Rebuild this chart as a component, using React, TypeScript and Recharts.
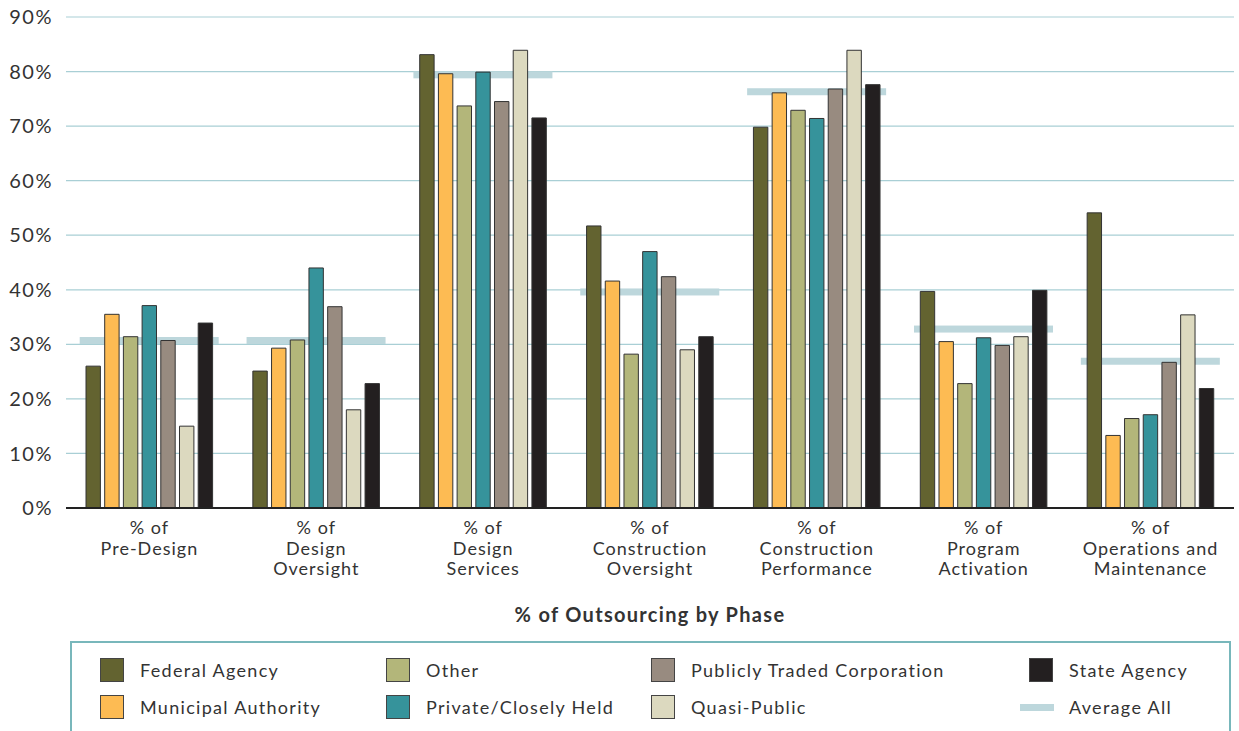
import { BarChart, Bar, XAxis, YAxis, CartesianGrid } from "recharts";

const phases = [
  "% of\nPre-Design",
  "% of\nDesign\nOversight",
  "% of\nDesign\nServices",
  "% of\nConstruction\nOversight",
  "% of\nConstruction\nPerformance",
  "% of\nProgram\nActivation",
  "% of\nOperations and\nMaintenance",
];

const federalAgency = [26, 25.1, 83.1, 51.7, 69.8, 39.7, 54.1];
const municipalAuthority = [35.5, 29.3, 79.6, 41.6, 76.1, 30.5, 13.3];
const other = [31.4, 30.8, 73.7, 28.2, 72.9, 22.8, 16.4];
const privateCloselyHeld = [37.1, 44, 79.9, 47, 71.4, 31.2, 17.1];
const publiclyTraded = [30.7, 36.9, 74.5, 42.4, 76.8, 29.8, 26.7];
const quasiPublic = [15, 18, 83.9, 29, 83.9, 31.4, 35.4];
const stateAgency = [33.9, 22.8, 71.5, 31.4, 77.6, 39.9, 21.9];
const averageAll = [30.7, 30.7, 79.4, 39.6, 76.3, 32.8, 26.9];

const yTicks = [0, 10, 20, 30, 40, 50, 60, 70, 80, 90];

const series = [
  { key: "federal", name: "Federal Agency", color: "#636330", values: federalAgency },
  { key: "municipal", name: "Municipal Authority", color: "#fdbb53", values: municipalAuthority },
  { key: "other", name: "Other", color: "#b3b67a", values: other },
  { key: "private", name: "Private/Closely Held", color: "#36939b", values: privateCloselyHeld },
  { key: "publicly", name: "Publicly Traded Corporation", color: "#988b80", values: publiclyTraded },
  { key: "quasi", name: "Quasi-Public", color: "#dcd9bf", values: quasiPublic },
  { key: "state", name: "State Agency", color: "#231f20", values: stateAgency },
];

const avgColor = "#bdd7dc";
const textColor = "#333";
const font = "Lato, 'Open Sans', sans-serif";

const chartData = phases.map((phase, i) => {
  const row: Record<string, string | number> = { phase, average: averageAll[i] };
  series.forEach((s) => {
    row[s.key] = s.values[i];
  });
  return row;
});

function PhaseTick(props: any) {
  const { x, y, payload } = props;
  const lines = String(payload.value).split("\n");
  return (
    <text
      x={x}
      y={y}
      textAnchor="middle"
      fill={textColor}
      fontSize={18}
      fontFamily={font}
      letterSpacing={1}
    >
      {lines.map((line, i) => (
        <tspan key={i} x={x} dy={i === 0 ? 26 : 20.5}>
          {line}
        </tspan>
      ))}
    </text>
  );
}

// average is drawn as a wide flat band centred on each phase
function AverageBand(props: any) {
  const { x, y, width } = props;
  const bandWidth = 139;
  return (
    <rect
      x={x + width / 2 - bandWidth / 2}
      y={y - 3.5}
      width={bandWidth}
      height={7}
      fill={avgColor}
    />
  );
}

function LegendBox() {
  const columns = [100, 386, 651, 1029];
  const rows = [670, 707];
  const items = [
    ...series.map((s) => ({ name: s.name, color: s.color, line: false })),
    { name: "Average All", color: avgColor, line: true },
  ];

  return (
    <>
      <div
        style={{
          position: "absolute",
          left: 70,
          top: 641,
          width: 1157,
          height: 120,
          border: "2px solid #78b7bb",
        }}
      />
      {items.map((item, i) => {
        const left = columns[Math.floor(i / 2)];
        const top = rows[i % 2];
        return (
          <div key={item.name}>
            {item.line ? (
              <div
                style={{
                  position: "absolute",
                  left: left - 9,
                  top: top - 3,
                  width: 34,
                  height: 7,
                  background: item.color,
                }}
              />
            ) : (
              <div
                style={{
                  position: "absolute",
                  left,
                  top: top - 12,
                  width: 22,
                  height: 22,
                  background: item.color,
                  border: "1px solid #444",
                }}
              />
            )}
            <div
              style={{
                position: "absolute",
                left: left + 40,
                top: top - 12,
                lineHeight: "24px",
                fontSize: 18,
                letterSpacing: 1.3,
                color: textColor,
                whiteSpace: "nowrap",
              }}
            >
              {item.name}
            </div>
          </div>
        );
      })}
    </>
  );
}

export default function App() {
  return (
    <div
      style={{
        position: "absolute",
        left: 0,
        top: 0,
        width: 1239,
        height: 731,
        overflow: "hidden",
        background: "#fff",
        fontFamily: font,
      }}
    >
      <BarChart
        width={1239}
        height={640}
        data={chartData}
        margin={{ top: 17, right: 5, bottom: 5, left: 0 }}
        barSize={14.4}
        barGap={4.3}
      >
        <CartesianGrid vertical={false} stroke="#a9cfd5" strokeWidth={1.2} />
        <XAxis xAxisId="avg" dataKey="phase" hide />
        <XAxis
          dataKey="phase"
          height={127}
          interval={0}
          tickLine={false}
          tickSize={0}
          tickMargin={0}
          axisLine={{ stroke: "#222", strokeWidth: 2 }}
          tick={<PhaseTick />}
          label={{
            value: "% of Outsourcing by Phase",
            position: "insideBottom",
            offset: 13,
            fill: textColor,
            fontSize: 20,
            fontWeight: 700,
            fontFamily: font,
            letterSpacing: 1.3,
          }}
        />
        <YAxis
          width={66}
          domain={[0, 90]}
          ticks={yTicks}
          interval={0}
          tickFormatter={(v) => `${v}%`}
          axisLine={false}
          tickLine={false}
          tickMargin={7}
          tick={{ fill: textColor, fontSize: 20, fontFamily: font, letterSpacing: 1.5 }}
        />
        <Bar
          xAxisId="avg"
          dataKey="average"
          name="Average All"
          fill={avgColor}
          shape={<AverageBand />}
          isAnimationActive={false}
        />
        {series.map((s) => (
          <Bar
            key={s.key}
            dataKey={s.key}
            name={s.name}
            fill={s.color}
            stroke="#333"
            strokeWidth={1}
            isAnimationActive={false}
          />
        ))}
      </BarChart>
      <LegendBox />
    </div>
  );
}
